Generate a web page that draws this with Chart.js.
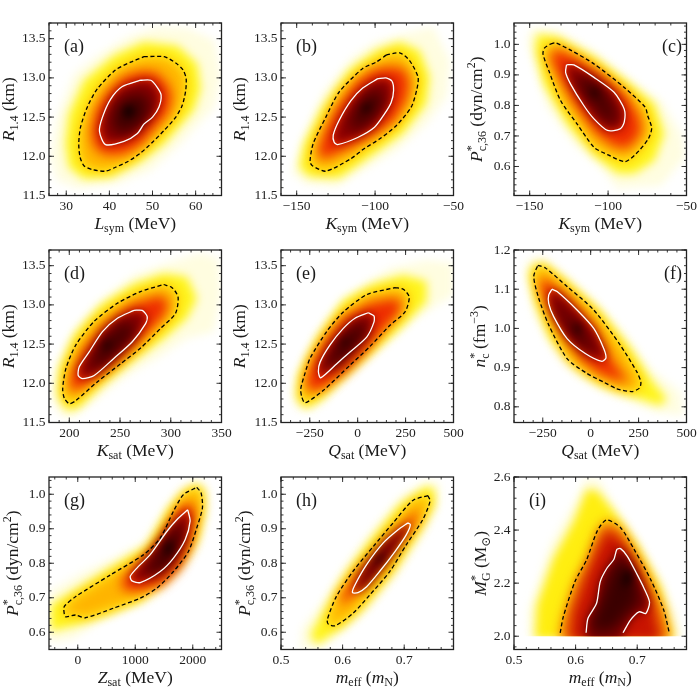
<!DOCTYPE html>
<html>
<head>
<meta charset="utf-8">
<script src="https://cdn.jsdelivr.net/npm/chart.js@4/dist/chart.umd.min.js"></script>
<style>
html,body{margin:0;background:#fff;overflow:hidden;width:700px;height:700px}
canvas{position:absolute;display:block}
</style>
</head>
<body>
<script>
// =======================================================
// Data: [x, y] in axis units
// =======================================================

// (a) Lsym / R1.4
const aOuter=[[51.1,13.65],[58.1,13.63],[64.3,13.48],[65.8,13.01],[64.3,12.63],[56.5,12.16],[49.6,11.82],[41.8,11.65],[32.6,11.59],[27.9,11.69],[26.4,11.99],[27.9,12.5],[31.8,13.05],[38,13.31],[44.2,13.52]];
const aYellow=[[48,13.46],[55.8,13.41],[60.4,13.18],[61.2,12.86],[59.6,12.59],[52.7,12.16],[47.2,11.93],[40.3,11.73],[34.1,11.71],[30.6,11.86],[29.8,12.16],[30.6,12.54],[34.1,12.97],[41.1,13.29]];
const aDash=[[48,13.27],[52.7,13.27],[55.4,13.19],[57.1,13.1],[57.8,12.99],[57.7,12.84],[56.9,12.65],[55.4,12.5],[52.7,12.33],[50,12.18],[47.2,12.04],[44.2,11.93],[41.4,11.86],[39.1,11.81],[36,11.83],[34.1,11.88],[33.2,11.99],[32.9,12.16],[33.3,12.37],[34.9,12.63],[37.2,12.86],[41.4,13.1],[44.9,13.2]];
const aMid=[[47.5,13.08],[50.8,13.07],[53.5,12.92],[54.5,12.76],[53.5,12.55],[50.5,12.36],[47.5,12.16],[43.5,12.03],[39,12.02],[36.5,12.12],[35.8,12.32],[37,12.6],[39.8,12.84],[43.5,13.02]];
const aWhite=[[47.2,12.97],[49.6,12.97],[51.1,12.88],[52,12.78],[51.5,12.63],[50,12.5],[48,12.41],[46.5,12.29],[43.4,12.19],[39.1,12.15],[37.7,12.32],[38.4,12.5],[40.3,12.73],[43,12.89]];
const aCore=[[47.5,12.82],[49.5,12.72],[49,12.5],[46.5,12.35],[43,12.27],[40.5,12.33],[40.5,12.55],[43,12.75]];
const aPeak=[[44.7,12.66],[46,12.57],[44.5,12.49],[43.2,12.52],[43.5,12.62]];

// (b) Ksym / R1.4
const bOuter=[[-82.3,13.56],[-63,13.65],[-52.4,13.22],[-54.5,12.76],[-67.3,12.41],[-86.5,12.07],[-107.9,11.82],[-125,11.61],[-144.2,11.65],[-152.8,11.78],[-147.4,12.16],[-133.5,12.8],[-114.3,13.27],[-99.4,13.46]];
const bYellow=[[-84.4,13.46],[-71.6,13.35],[-65.2,13.01],[-67.3,12.67],[-82.3,12.29],[-103.6,11.99],[-122.9,11.72],[-142.1,11.74],[-148.5,11.86],[-145.3,12.16],[-133.5,12.63],[-116.5,13.1],[-99.4,13.35]];
const bDash=[[-93,13.29],[-84.4,13.32],[-78,13.22],[-72.6,13.01],[-73.3,12.86],[-76.9,12.63],[-86.5,12.39],[-97.2,12.22],[-106.8,12.1],[-115.4,11.97],[-131.4,11.81],[-140,11.88],[-141.5,11.93],[-139.5,12.16],[-131.4,12.5],[-122.9,12.82],[-107.9,13.12],[-99.4,13.2]];
const bMid=[[-93,13.14],[-82,13.12],[-78,12.95],[-80,12.72],[-88,12.45],[-100,12.28],[-115,12.12],[-132,11.97],[-137,12.02],[-133,12.28],[-125,12.6],[-112,12.95],[-101,13.1]];
const bWhite=[[-98.3,12.99],[-93,13],[-89.3,12.96],[-88.2,12.84],[-89.7,12.69],[-94,12.54],[-100.4,12.37],[-111.1,12.24],[-123.9,12.15],[-126.1,12.18],[-126.7,12.27],[-122.9,12.46],[-115.4,12.71],[-107.9,12.87]];
const bCore=[[-97,12.85],[-94,12.72],[-100,12.5],[-110,12.35],[-117,12.33],[-115,12.5],[-108,12.72],[-101,12.86]];
const bPeak=[[-104,12.68],[-102.5,12.64],[-107,12.56],[-109,12.58],[-107,12.65]];

// (c) Ksym / Pc,36
const cOuter=[[-148.5,1.05],[-132.5,1.045],[-109,.98],[-87.6,.892],[-66.2,.816],[-53.4,.707],[-51.3,.63],[-66.2,.538],[-83.3,.532],[-94,.527],[-104.7,.598],[-121.8,.674],[-138.9,.794],[-147.4,.936],[-151.7,1.012]];
const cYellow=[[-145.3,1.034],[-132.5,1.025],[-109,.958],[-87.6,.876],[-70.5,.805],[-64.1,.707],[-70.5,.619],[-83.3,.576],[-94,.576],[-109,.636],[-126.1,.739],[-141,.87],[-146.4,.979]];
const cDash=[[-136.8,1.001],[-133.5,1.005],[-123.9,.981],[-109,.936],[-89.7,.859],[-76.3,.794],[-74.8,.767],[-72.2,.726],[-74.4,.69],[-82.3,.641],[-89.3,.616],[-100.4,.639],[-109,.663],[-119.7,.739],[-130.3,.816],[-137.8,.914],[-141.5,.968],[-140.6,.988]];
const cMid=[[-133,.985],[-122,.96],[-105,.905],[-88,.83],[-80,.76],[-79,.71],[-87,.66],[-96,.665],[-108,.71],[-122,.81],[-133,.91],[-137,.96]];
const cWhite=[[-126.5,.933],[-121.8,.933],[-109,.892],[-96.2,.843],[-89.7,.788],[-89.7,.745],[-92.3,.723],[-100.4,.718],[-109,.756],[-115.4,.799],[-123.9,.87],[-127.1,.908]];
const cCore=[[-117,.9],[-105,.865],[-97,.8],[-94,.75],[-100,.74],[-108,.79],[-117,.85],[-121,.89]];
const cPeak=[[-110.5,.855],[-107,.85],[-107,.83],[-110,.83]];

// (d) Ksat / R1.4
const dOuter=[[329,13.66],[347,13.59],[349.3,13.13],[342.2,12.66],[316,12.57],[286.6,12.32],[257.2,12.1],[227.8,11.81],[201.6,11.55],[191.8,11.59],[182,11.81],[188.6,12.27],[208.2,12.74],[234.3,13.08],[263.7,13.38],[296.4,13.53]];
const dYellow=[[293.1,13.4],[316,13.36],[325.8,13.08],[316,12.83],[293.1,12.57],[263.7,12.3],[234.3,12],[208.2,11.68],[196.7,11.66],[188.6,11.85],[190.2,12.19],[204.9,12.62],[231,13],[263.7,13.27]];
const dDash=[[293,13.26],[301.3,13.22],[307.2,13.1],[304.6,12.89],[289.9,12.7],[270.3,12.45],[250.7,12.25],[227.8,12.02],[206.5,11.78],[200,11.74],[195.1,11.81],[193.5,11.93],[196.7,12.19],[206.5,12.49],[224.5,12.79],[247.4,13.02],[270.3,13.17]];
const dMid=[[290,13.12],[298,13.03],[293,12.85],[270,12.55],[245,12.25],[222,12.02],[205,11.9],[200,11.95],[203,12.15],[215,12.45],[235,12.75],[260,13]];
const dWhite=[[263.7,12.93],[271.9,12.93],[276.8,12.85],[275.2,12.76],[262.1,12.53],[244.1,12.32],[224.5,12.1],[213.1,12.06],[208.8,12.1],[209.8,12.21],[219.6,12.4],[232.7,12.66],[247.4,12.83]];
const dCore=[[262,12.8],[265,12.65],[250,12.42],[232,12.22],[220,12.16],[222,12.3],[235,12.58],[250,12.76]];
const dPeak=[[240,12.55],[241,12.5],[234,12.42],[232,12.42],[235,12.52]];

// (e) Qsat / R1.4
const eOuter=[[360,13.57],[499,13.53],[499,13.13],[307,12.83],[116,12.45],[-23,12.15],[-179,11.76],[-248,11.64],[-318,11.68],[-344,11.89],[-283,12.32],[-162,12.83],[-23,13.17],[169,13.47]];
const eYellow=[[238,13.38],[360,13.3],[360,13.04],[221,12.7],[64,12.36],[-75,12.06],[-196,11.78],[-274,11.68],[-318,11.81],[-309,12.11],[-214,12.57],[-75,13.06],[82,13.27]];
const eDash=[[195,13.22],[238,13.2],[269,13.1],[247,12.91],[168.5,12.74],[64,12.47],[-40,12.23],[-179,11.91],[-274.5,11.75],[-292,11.83],[-297,11.93],[-274.5,12.13],[-248,12.32],[-161.6,12.66],[-74.7,12.91],[47,13.13]];
const eMid=[[190,13.08],[235,13.03],[210,12.88],[130,12.66],[40,12.4],[-60,12.15],[-190,11.92],[-255,11.9],[-270,12.02],[-240,12.25],[-170,12.55],[-70,12.85],[60,13.02]];
const eWhite=[[55.6,12.9],[85,12.86],[85,12.78],[47,12.59],[-40,12.4],[-109,12.25],[-193,12.07],[-205,12.15],[-196,12.27],[-144,12.49],[-75,12.7],[-14,12.83]];
const eCore=[[40,12.78],[55,12.68],[-10,12.45],[-90,12.25],[-150,12.15],[-165,12.25],[-110,12.5],[-30,12.72]];
const ePeak=[[-55,12.58],[-50,12.54],[-80,12.47],[-90,12.48],[-70,12.56]];

// (f) Qsat / nc
const fOuter=[[-332,1.171],[-262,1.184],[-158,1.145],[16,1.073],[172,.991],[311,.897],[467,.838],[485,.778],[346,.786],[120,.829],[-54,.872],[-193,.94],[-297,1.034],[-340,1.137]];
const fYellow=[[-306,1.158],[-245,1.167],[-123,1.12],[50,1.043],[207,.949],[311,.872],[398,.82],[363,.803],[224,.825],[50,.855],[-89,.902],[-210,.974],[-288,1.068],[-320,1.137]];
const fDash=[[-276,1.161],[-236,1.154],[-123,1.107],[16,1.047],[155,.957],[241,.889],[262,.863],[255,.848],[215,.839],[137,.846],[68,.863],[-19,.885],[-123,.923],[-219,1.009],[-271,1.077],[-297,1.132]];
const fMid=[[-250,1.13],[-210,1.115],[-110,1.075],[25,1],[110,.92],[200,.86],[120,.87],[40,.885],[-50,.92],[-150,.99],[-235,1.07],[-265,1.11]];
const fWhite=[[-202,1.1],[-175,1.094],[-71,1.047],[16,1],[68,.949],[80,.925],[59,.916],[-28,.936],[-123,.974],[-193,1.03],[-219,1.064],[-219,1.085]];
const fCore=[[-170,1.075],[-130,1.04],[-30,.985],[35,.93],[20,.93],[-60,.96],[-130,1.01],[-180,1.06]];
const fPeak=[[-75,1.02],[-55,1],[-55,.98],[-75,.99],[-85,1.005]];

// (g) Zsat / Pc,36
const gOuter=[[2098,1.038],[2272,1.018],[2243,.941],[2127,.844],[1723,.757],[1376,.708],[855,.67],[393,.631],[-69,.582],[-474,.568],[-486,.718],[104,.776],[624,.815],[1145,.863],[1549,.96],[1838,1.018]];
const gYellow=[[2069,1.03],[2196,1.009],[2196,.951],[2098,.873],[1838,.805],[1491,.747],[1087,.689],[509,.65],[-12,.621],[-474,.602],[-474,.679],[-40,.723],[566,.786],[1202,.849],[1578,.96],[1838,1.009]];
const gDash=[[2069,1.02],[2145,1.004],[2168,.96],[2069,.902],[1925,.834],[1665,.776],[1376,.728],[1087,.699],[624,.67],[133,.642],[-40,.65],[-214,.645],[-243,.67],[-214,.679],[-40,.703],[566,.766],[1145,.825],[1434,.873],[1665,.951],[1838,.999]];
const gMid=[[2000,.975],[2040,.93],[1970,.86],[1780,.79],[1480,.74],[1100,.72],[800,.72],[760,.75],[1000,.79],[1300,.84],[1560,.91],[1790,.965]];
const gWhite=[[1913,.955],[1954,.922],[1867,.868],[1665,.815],[1434,.776],[1087,.744],[942,.749],[913,.762],[1029,.786],[1260,.825],[1549,.892],[1723,.926]];
const gCore=[[1830,.92],[1800,.85],[1600,.79],[1300,.76],[1150,.765],[1280,.81],[1500,.86],[1700,.91]];
const gPeak=[[1620,.87],[1640,.84],[1540,.82],[1500,.83],[1560,.86]];

// (h) meff / Pc,36
const hOuter=[[.736,1.038],[.757,1.033],[.757,.97],[.736,.893],[.693,.776],[.644,.669],[.601,.602],[.563,.553],[.531,.55],[.534,.611],[.563,.679],[.601,.786],[.65,.902],[.698,.999]];
const hYellow=[[.736,1.023],[.749,1.014],[.749,.97],[.725,.893],[.682,.776],[.633,.669],[.601,.616],[.558,.564],[.547,.592],[.569,.66],[.601,.757],[.644,.863],[.693,.97]];
const hDash=[[.7385,.996],[.742,.98],[.73,.926],[.7035,.854],[.6765,.776],[.644,.708],[.617,.655],[.588,.619],[.577,.623],[.575,.636],[.59,.704],[.617,.777],[.65,.849],[.682,.917],[.714,.982]];
const hMid=[[.722,.955],[.72,.925],[.69,.865],[.655,.785],[.625,.725],[.6,.68],[.596,.7],[.625,.77],[.655,.825],[.69,.895]];
const hWhite=[[.706,.917],[.71,.912],[.7035,.883],[.685,.834],[.66,.776],[.639,.732],[.625,.715],[.616,.715],[.62,.737],[.639,.796],[.666,.859],[.69,.897]];
const hCore=[[.69,.885],[.685,.86],[.655,.79],[.632,.74],[.63,.755],[.655,.815]];
const hPeak=[[.668,.835],[.665,.815],[.653,.795],[.652,.805]];

// (i) meff / MG, everything stops at 2.0
const iOuter=[[.616,2.599],[.638,2.592],[.657,2.51],[.695,2.371],[.738,2.219],[.765,2.08],[.772,1.99],[.525,1.99],[.523,2.092],[.559,2.346],[.597,2.497],[.613,2.573]];
const iYellow=[[.618,2.554],[.635,2.548],[.662,2.472],[.7,2.346],[.738,2.181],[.76,1.99],[.534,1.99],[.537,2.118],[.564,2.295],[.597,2.434]];
const iDash=[[.575,2.013],[.58,2.073],[.599,2.206],[.618,2.289],[.635,2.396],[.65,2.438],[.673,2.409],[.695,2.327],[.722,2.213],[.743,2.099],[.752,2.013]];
const iDashFill=iDash.concat([[.752,1.98],[.575,1.98]]);
const iMid=[[.65,2.4],[.672,2.37],[.7,2.26],[.725,2.12],[.74,1.98],[.59,1.98],[.595,2.09],[.615,2.22],[.635,2.33]];
const iWhite=[[.617,2.013],[.62,2.067],[.634,2.124],[.64,2.206],[.651,2.257],[.662,2.289],[.667,2.327],[.673,2.33],[.684,2.301],[.7,2.232],[.711,2.181],[.72,2.128],[.714,2.086],[.703,2.092],[.689,2.061],[.677,2.013]];
const iWhiteFill=iWhite.concat([[.677,1.98],[.617,1.98]]);
const iCore=[[.675,2.31],[.695,2.22],[.705,2.13],[.685,2.09],[.665,2.03],[.64,2.01],[.622,2.03],[.64,2.13],[.655,2.24]];
const iPeak=[[.683,2.26],[.692,2.23],[.683,2.18],[.677,2.2]];

// tick values
const xLsym=[30,40,50,60];
const xKsym=[-150,-100,-50];
const xKsat=[200,250,300,350];
const xQsat=[-250,0,250,500];
const xZsat=[0,1000,2000];
const xMeff=[0.5,0.6,0.7];
const yR14=[11.5,12,12.5,13,13.5];
const yPc=[0.6,0.7,0.8,0.9,1];
const yNc=[0.8,0.9,1,1.1,1.2];
const yMg=[2,2.2,2.4,2.6];

// axis titles, t = text, k = i italic / r roman / b subscript / p superscript (s: stays in place)
const tLsym=[{t:"L",k:"i"},{t:"sym",k:"b"},{t:" (MeV)",k:"r"}];
const tKsym=[{t:"K",k:"i"},{t:"sym",k:"b"},{t:" (MeV)",k:"r"}];
const tKsat=[{t:"K",k:"i"},{t:"sat",k:"b"},{t:" (MeV)",k:"r"}];
const tQsat=[{t:"Q",k:"i"},{t:"sat",k:"b"},{t:" (MeV)",k:"r"}];
const tZsat=[{t:"Z",k:"i"},{t:"sat",k:"b"},{t:" (MeV)",k:"r"}];
const tMeff=[{t:"m",k:"i"},{t:"eff",k:"b"},{t:" (",k:"r"},{t:"m",k:"i"},{t:"N",k:"b"},{t:")",k:"r"}];
const tR14=[{t:"R",k:"i"},{t:"1.4",k:"b"},{t:" (km)",k:"r"}];
const tPc=[{t:"P",k:"i"},{t:"*",k:"p",s:1},{t:"c,36",k:"b"},{t:" (dyn/cm",k:"r"},{t:"2",k:"p"},{t:")",k:"r"}];
const tNc=[{t:"n",k:"i"},{t:"*",k:"p",s:1},{t:"c",k:"b"},{t:" (fm",k:"r"},{t:"\u22123",k:"p"},{t:")",k:"r"}];
const tMg=[{t:"M",k:"i"},{t:"*",k:"p",s:1},{t:"G",k:"b"},{t:" (M",k:"r"},{t:"\u2299",k:"b"},{t:")",k:"r"}];

// density layer colours from the faint edge to the peak
const layerColors=["#fffde0","#fff41c","#ffb400","#ee2c00","#8c0000","#420000","#080000"];
const wideColors=["#fffde0","#ffee10","#f47000","#c81400","#7a0000","#3a0000","#080000"];
const layerBlur=[4,5,6,6,5,7,4];

const panels=[
 {tag:"(a)",px:49,py:23,xr:[26,66],yr:[11.5,13.7],xt:xLsym,yt:yR14,xm:2,ym:.1,xd:0,yd:1,xl:tLsym,yl:tR14,yo:-35,layers:[aOuter,aYellow,aDash,aMid,aWhite,aCore,aPeak],dash:aDash,white:aWhite},
 {tag:"(b)",px:281,py:23,xr:[-160,-50],yr:[11.5,13.7],xt:xKsym,yt:yR14,xm:10,ym:.1,xd:0,yd:1,xl:tKsym,yl:tR14,yo:-36,layers:[bOuter,bYellow,bDash,bMid,bWhite,bCore,bPeak],dash:bDash,white:bWhite},
 {tag:"(c)",px:513.5,py:23,xr:[-160,-50],yr:[.505,1.07],xt:xKsym,yt:yPc,xm:10,ym:.02,xd:0,yd:1,xl:tKsym,yl:tPc,yo:-32,right:true,layers:[cOuter,cYellow,cDash,cMid,cWhite,cCore,cPeak],dash:cDash,white:cWhite},
 {tag:"(d)",px:49,py:250,xr:[180,350],yr:[11.5,13.7],xt:xKsat,yt:yR14,xm:10,ym:.1,xd:0,yd:1,xl:tKsat,yl:tR14,yo:-35,layers:[dOuter,dYellow,dDash,dMid,dWhite,dCore,dPeak],dash:dDash,white:dWhite},
 {tag:"(e)",px:281,py:250,xr:[-400,500],yr:[11.5,13.7],xt:xQsat,yt:yR14,xm:50,ym:.1,xd:0,yd:1,xl:tQsat,yl:tR14,yo:-36,layers:[eOuter,eYellow,eDash,eMid,eWhite,eCore,ePeak],dash:eDash,white:eWhite},
 {tag:"(f)",px:513.5,py:250,xr:[-400,500],yr:[.76,1.2],xt:xQsat,yt:yNc,xm:50,ym:.02,xd:0,yd:1,xl:tQsat,yl:tNc,yo:-29,right:true,layers:[fOuter,fYellow,fDash,fMid,fWhite,fCore,fPeak],dash:fDash,white:fWhite},
 {tag:"(g)",px:49,py:477,xr:[-500,2500],yr:[.55,1.05],xt:xZsat,yt:yPc,xm:200,ym:.02,xd:0,yd:1,xl:tZsat,yl:tPc,yo:-31,layers:[gOuter,gYellow,gDash,gMid,gWhite,gCore,gPeak],dash:gDash,white:gWhite},
 {tag:"(h)",px:281,py:477,xr:[.5,.78],yr:[.55,1.05],xt:xMeff,yt:yPc,xm:.02,ym:.02,xd:1,yd:1,xl:tMeff,yl:tPc,yo:-31,layers:[hOuter,hYellow,hDash,hMid,hWhite,hCore,hPeak],dash:hDash,white:hWhite},
 {tag:"(i)",px:513.5,py:477,xr:[.5,.78],yr:[1.95,2.6],xt:xMeff,yt:yMg,xm:.02,ym:.04,xd:1,yd:1,xl:tMeff,yl:tMg,yo:-28,floor:2,open:true,colors:wideColors,layers:[iOuter,iYellow,iDashFill,iMid,iWhiteFill,iCore,iPeak],dash:iDash,white:iWhite}
];

// =======================================================
// Plugins
// =======================================================

const SERIF='"Liberation Serif","DejaVu Serif",serif';
const PLOT=172.5;
const TITLE_SIZE=17.5;

// blurs a density layer while the filler paints it, has to run before the filler
const layerBlurPlugin={
    id:"layerBlur",
    beforeDatasetDraw(chart,args){
        const ds=chart.data.datasets[args.index];
        if(!ds.blur) return;
        const a=chart.chartArea, ctx=chart.ctx, floor=chart.options.panel.floor;
        const bottom=floor?chart.scales.y.getPixelForValue(floor):a.bottom;
        ctx.save();
        ctx.beginPath();
        ctx.rect(a.left,a.top,a.right-a.left,bottom-a.top);
        ctx.clip();
        ctx.filter="blur("+ds.blur+"px)";
    },
    afterDatasetDraw(chart,args){
        if(chart.data.datasets[args.index].blur) chart.ctx.restore();
    }
};
const filler=Chart.registry.getPlugin("filler");
Chart.unregister(filler);
Chart.register(layerBlurPlugin);
Chart.register(filler);

function runFont(run,size){
    if(run.k=="i") return "italic "+size+"px "+SERIF;
    if(run.k=="b"||run.k=="p") return Math.round(size*.7)+"px "+SERIF;
    return size+"px "+SERIF;
}

function drawRuns(ctx,runs,size){
    let w=0;
    runs.forEach(r=>{
        ctx.font=runFont(r,size);
        if(!r.s) w+=ctx.measureText(r.t).width;
    });
    let x=-w/2;
    runs.forEach(r=>{
        ctx.font=runFont(r,size);
        const dy=r.k=="b"?size*.22:(r.k=="p"?-size*.4:0);
        ctx.fillText(r.t,x,dy);
        if(!r.s) x+=ctx.measureText(r.t).width;
    });
}

const framePlugin={
    id:"frame",
    afterDatasetsDraw(chart){
        const p=chart.options.panel, a=chart.chartArea, ctx=chart.ctx;
        const sx=chart.scales.x, sy=chart.scales.y;
        ctx.save();
        ctx.strokeStyle="#222";
        ctx.lineWidth=0.9;
        ctx.beginPath();
        function xTick(v,len){
            const x=sx.getPixelForValue(v);
            ctx.moveTo(x,a.bottom);ctx.lineTo(x,a.bottom-len);
            ctx.moveTo(x,a.top);ctx.lineTo(x,a.top+len);
        }
        function yTick(v,len){
            const y=sy.getPixelForValue(v);
            ctx.moveTo(a.left,y);ctx.lineTo(a.left+len,y);
            ctx.moveTo(a.right,y);ctx.lineTo(a.right-len,y);
        }
        for(let k=Math.ceil(sx.min/p.xm-1e-6);k*p.xm<=sx.max+1e-6;k++) xTick(k*p.xm,2.5);
        for(let k=Math.ceil(sy.min/p.ym-1e-6);k*p.ym<=sy.max+1e-6;k++) yTick(k*p.ym,2.5);
        p.xt.forEach(v=>xTick(v,5));
        p.yt.forEach(v=>yTick(v,5));
        ctx.stroke();
        ctx.lineWidth=1.3;
        ctx.strokeRect(a.left,a.top,a.right-a.left,a.bottom-a.top);

        // panel tag and axis titles
        ctx.fillStyle="#1a1a1a";
        ctx.textBaseline="alphabetic";
        ctx.font="18px "+SERIF;
        if(p.right){
            ctx.textAlign="right";
            ctx.fillText(p.tag,a.right-4.5,a.top+28.5);
        }else{
            ctx.textAlign="left";
            ctx.fillText(p.tag,a.left+15,a.top+28.5);
        }
        ctx.textAlign="left";
        ctx.save();
        ctx.translate((a.left+a.right)/2,a.bottom+33);
        drawRuns(ctx,p.xl,TITLE_SIZE);
        ctx.restore();
        ctx.save();
        ctx.translate(a.left+p.yo,(a.top+a.bottom)/2);
        ctx.rotate(-Math.PI/2);
        drawRuns(ctx,p.yl,TITLE_SIZE);
        ctx.restore();
        ctx.restore();
    }
};

// =======================================================
// Charts
// =======================================================

function toPoints(list,close){
    const pts=list.map(q=>({x:q[0],y:q[1]}));
    if(close) pts.push(pts[0]);
    return pts;
}

function axis(range,values,decimals,isX,size){
    return {
        type:"linear",
        min:range[0],
        max:range[1],
        grid:{display:false,drawTicks:false},
        border:{display:false},
        afterBuildTicks(s){ s.ticks=values.map(v=>({value:v})); },
        afterFit(s){ if(isX) s.height=size; else s.width=size; },
        ticks:{
            autoSkip:false,
            maxRotation:0,
            padding:isX?3:3.5,
            color:"#222",
            font:{family:SERIF,size:13.5},
            callback:v=>v.toFixed(decimals).replace("-","\u2212")
        }
    };
}

function drawPanel(p){
    const canvas=document.createElement("canvas");
    canvas.width=240;
    canvas.height=240;
    canvas.style.left=(p.px-49)+"px";
    canvas.style.top=(p.py-20)+"px";
    canvas.style.width="240px";
    canvas.style.height="240px";
    document.body.appendChild(canvas);

    const colors=p.colors||layerColors;
    const sets=p.layers.map((l,i)=>({
        data:toPoints(l,true),
        showLine:true,
        fill:"shape",
        tension:0,
        backgroundColor:colors[i],
        borderWidth:0,
        pointRadius:0,
        blur:layerBlur[i],
        order:20-i
    }));
    sets.push({data:toPoints(p.dash,!p.open),showLine:true,fill:false,tension:.25,borderColor:"#000",borderWidth:1.3,borderDash:[4,2.6],pointRadius:0,order:2});
    sets.push({data:toPoints(p.white,!p.open),showLine:true,fill:false,tension:.25,borderColor:"#fff",borderWidth:1.3,pointRadius:0,order:1});

    new Chart(canvas,{
        type:"scatter",
        data:{datasets:sets},
        plugins:[framePlugin],
        options:{
            panel:p,
            responsive:false,
            animation:false,
            devicePixelRatio:1,
            events:[],
            layout:{padding:{left:0,top:20,right:240-49-PLOT,bottom:0}},
            plugins:{legend:{display:false},tooltip:{enabled:false},title:{display:false}},
            scales:{
                x:axis(p.xr,p.xt,p.xd,true,240-20-PLOT),
                y:axis(p.yr,p.yt,p.yd,false,49)
            }
        }
    });
}

panels.forEach(drawPanel);
</script>
</body>
</html>
